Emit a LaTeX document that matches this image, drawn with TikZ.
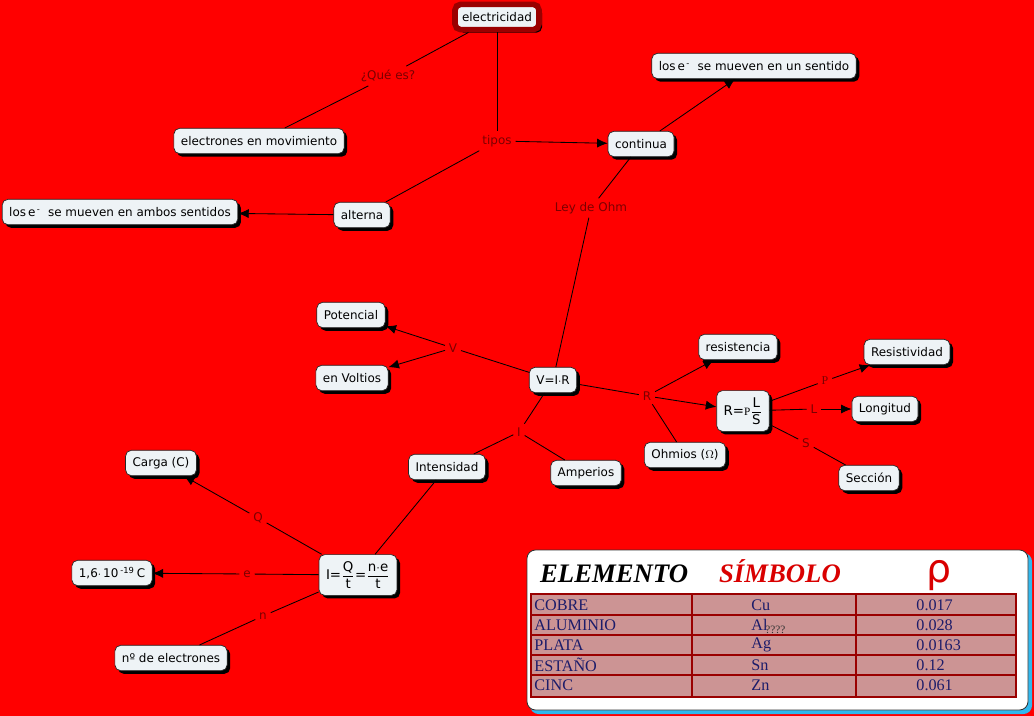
\documentclass[tikz,border=0pt]{standalone}
\usepackage{amsmath}
\usepackage{fontspec}
\setmainfont{DejaVu Sans}
\newfontfamily\tabfont{Liberation Serif}
\usetikzlibrary{arrows.meta,shadows,positioning}
\definecolor{fondo}{HTML}{FF0000}
\definecolor{caja}{HTML}{EEF3F6}
\definecolor{enlace}{HTML}{7A0000}
\definecolor{borde}{HTML}{9A0000}
\definecolor{celda}{HTML}{CC9494}
\definecolor{marino}{HTML}{1C1C6A}
\definecolor{celeste}{HTML}{30B8EE}

\begin{document}
\begin{tikzpicture}[x=0.025cm,y=-0.025cm,
  cbox/.style={draw=black!85,line width=0.5pt,fill=caja,rounded corners=4pt,
    font=\fontsize{8.5}{10}\selectfont,inner xsep=5pt,inner ysep=3pt,minimum height=18pt,
    drop shadow={shadow xshift=2.2pt,shadow yshift=-2.2pt,fill=black,opacity=1}},
  fbox/.style={cbox,font=\fontsize{9.5}{11}\selectfont,inner xsep=5pt,inner ysep=2pt,minimum height=29pt},
  lnk/.style={text=enlace,font=\fontsize{8.5}{10}\selectfont,inner sep=2.5pt},
  arr/.style={-{Latex[length=7.5pt,width=6.5pt]}},
  every path/.append style={line width=0.6pt}]
\useasboundingbox (0,0) rectangle (1034,716);
\fill[fondo] (0,0) rectangle (1034,716);

% conceptos
\node[cbox,draw=borde,line width=4pt,drop shadow={opacity=0}] (elec) at (497,17) {electricidad};
\node[cbox] (mov) at (259,141) {electrones en movimiento};
\node[cbox] (cont) at (641,144) {continua};
\node[cbox] (unsent) at (754,66) {los\,e\textsuperscript{\,-}\ \ se mueven en un sentido};
\node[cbox] (alt) at (362,215) {alterna};
\node[cbox] (ambos) at (120,212) {los\,e\textsuperscript{\,-}\ \ se mueven en ambos sentidos};
\node[cbox] (vir) at (553,380) {V=I$\cdot$R};
\node[cbox] (pot) at (351,315) {Potencial};
\node[cbox] (volt) at (352,378) {en Voltios};
\node[cbox] (res) at (738,347) {resistencia};
\node[fbox] (rls) at (743,411) {R={\tabfont\footnotesize P}$\dfrac{\text{L}}{\text{S}}$};
\node[cbox] (resist) at (907,352) {Resistividad};
\node[cbox] (long) at (885,409) {Longitud};
\node[cbox] (secc) at (869,478) {Sección};
\node[cbox] (ohm) at (685,455) {Ohmios ($\Omega$)};
\node[cbox] (inten) at (447,467) {Intensidad};
\node[cbox] (amp) at (586,473) {Amperios};
\node[fbox] (iqt) at (358,575) {I=$\dfrac{\text{Q}}{\text{t}}$=$\dfrac{\text{n$\cdot$e}}{\text{t}}$};
\node[cbox] (carga) at (161,463) {Carga (C)};
\node[cbox] (elem) at (112,573) {1,6$\cdot$\,10\,\textsuperscript{-19}\,C};
\node[cbox] (nume) at (171,658) {nº de electrones};

% palabras de enlace
\node[lnk] (que) at (388,76) {¿Qué es?};
\node[lnk] (tipos) at (497,141) {tipos};
\node[lnk] (ley) at (591,208) {Ley de Ohm};
\node[lnk] (lv) at (453,348) {V};
\node[lnk] (lr) at (647,396) {R};
\node[lnk] (lp) at (825,381) {\tabfont P};
\node[lnk] (ll) at (814,409) {L};
\node[lnk] (ls) at (806,443) {S};
\node[lnk] (li) at (519,432) {I};
\node[lnk] (lq) at (258,518) {Q};
\node[lnk] (le) at (247,574) {e};
\node[lnk] (ln) at (263,616) {n};

% conexiones
\draw (elec) -- (que) -- (mov);
\draw (elec) -- (tipos);
\draw[arr] (tipos) -- (cont);
\draw (tipos) -- (alt);
\draw[arr] (cont) -- (unsent);
\draw[arr] (alt) -- (ambos);
\draw (cont) -- (ley) -- (vir);
\draw (vir) -- (lv);
\draw[arr] (lv) -- (pot);
\draw[arr] (lv) -- (volt);
\draw (vir) -- (lr);
\draw[arr] (lr) -- (res);
\draw[arr] (lr) -- (rls);
\draw (lr) -- (ohm);
\draw (rls) -- (lp);
\draw[arr] (lp) -- (resist);
\draw (rls) -- (ll);
\draw[arr] (ll) -- (long);
\draw (rls) -- (ls) -- (secc);
\draw (vir) -- (li);
\draw (li) -- (inten);
\draw (li) -- (amp);
\draw (inten) -- (iqt);
\draw (iqt) -- (lq);
\draw[arr] (lq) -- (carga);
\draw (iqt) -- (le);
\draw[arr] (le) -- (elem);
\draw (iqt) -- (ln) -- (nume);

% tabla
\fill[celeste,rounded corners=6pt] (530,553) rectangle (1032,714);
\draw[fill=white,draw=black!80,rounded corners=6pt] (527,550) rectangle (1028,710);
\node[anchor=base west,font=\tabfont\fontsize{19}{19}\selectfont\bfseries\itshape] (hele) at (535,582) {ELEMENTO};
\node[anchor=base west,text=red!85!black,font=\tabfont\fontsize{19}{19}\selectfont\bfseries\itshape] (hsim) at (714,582) {SÍMBOLO};
\node[text=red!85!black,font=\fontsize{28}{28}\selectfont] (hrho) at (939,576) {ρ};
\fill[celda] (531,594) rectangle (1016,697);
\draw[borde,line width=1.4pt] (531,594) rectangle (1016,697);
\foreach \yy in {615,635,655,675} \draw[borde,line width=1.2pt] (531,\yy) -- (1016,\yy);
\foreach \xx in {692,856} \draw[borde,line width=1.4pt] (\xx,594) -- (\xx,697);
\foreach \el/\sy/\rv [count=\i] in {COBRE/Cu/0.017,ALUMINIO/Al/0.028,PLATA/Ag/0.0163,ESTAÑO/Sn/0.12,CINC/Zn/0.061}{
  \node[anchor=west,text=marino,font=\tabfont\fontsize{11.5}{12}\selectfont,inner sep=0pt] at (534,585+20*\i) {\el};
  \node[anchor=west,text=marino,font=\tabfont\fontsize{11.5}{12}\selectfont,inner sep=0pt] at (751,585+20*\i) {\sy};
  \node[anchor=west,text=marino,font=\tabfont\fontsize{11.5}{12}\selectfont,inner sep=0pt] at (916,585+20*\i) {\rv};
}
\node[anchor=west,text=black!80,font=\tabfont\fontsize{8}{8}\selectfont,inner sep=0pt] (qq) at (765,630) {????};
\end{tikzpicture}
\end{document}
